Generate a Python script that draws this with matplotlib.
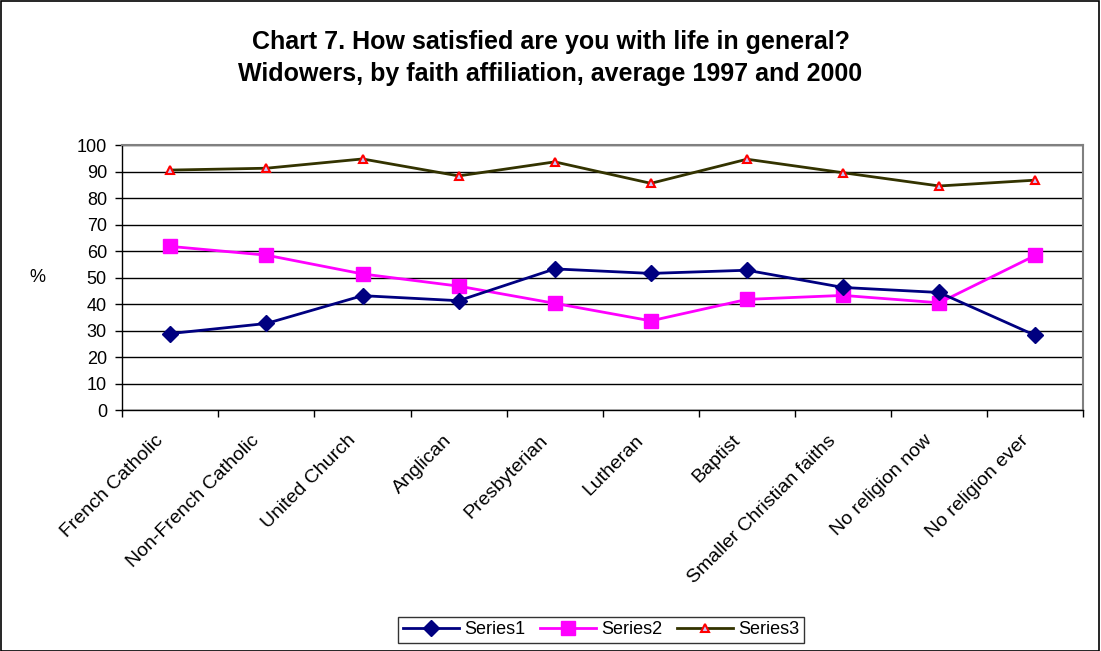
import matplotlib
matplotlib.use("Agg")
import matplotlib.pyplot as plt
from matplotlib.transforms import blended_transform_factory

plt.rcParams['font.family'] = ['Liberation Sans', 'DejaVu Sans']

categories = ["French Catholic", "Non-French Catholic", "United Church", "Anglican",
              "Presbyterian", "Lutheran", "Baptist", "Smaller Christian faiths",
              "No religion now", "No religion ever"]
series1 = [28.9, 32.7, 43.2, 41.3, 53.3, 51.6, 52.8, 46.3, 44.4, 28.2]
series2 = [61.8, 58.5, 51.4, 46.8, 40.3, 33.7, 41.8, 43.3, 40.5, 58.4]
series3 = [90.6, 91.3, 94.8, 88.4, 93.7, 85.6, 94.7, 89.6, 84.6, 86.8]
yticks = list(range(0, 101, 10))

fig = plt.figure(figsize=(11.01, 6.51), dpi=100)
fig.patch.set_facecolor('white')
# outer frame around the figure
fig.add_artist(plt.Rectangle((0.0005, 0.0005), 0.998, 0.998, transform=fig.transFigure,
                             fill=False, edgecolor='black', linewidth=1.2))

ax = fig.add_axes([0.111, 0.370, 0.873, 0.407])
x = [i + 0.5 for i in range(len(categories))]

ax.plot(x, series1, color='#000080', linewidth=2, marker='D', markersize=8,
        markerfacecolor='#000080', markeredgecolor='#000080', label='Series1', zorder=4)
ax.plot(x, series2, color='#FF00FF', linewidth=2, marker='s', markersize=10.5,
        markerfacecolor='#FF00FF', markeredgecolor='#FF00FF', label='Series2', zorder=3)
ax.plot(x, series3, color='#333300', linewidth=2, marker='^', markersize=6,
        markerfacecolor='#C8C8FF', markeredgecolor='#FF0000', markeredgewidth=1.5,
        label='Series3', zorder=3)

ax.set_xlim(0, len(categories))
ax.set_ylim(0, 100)
ax.set_yticks(yticks)
ax.set_yticklabels([str(v) for v in yticks], fontsize=13)
ax.set_xticks(range(len(categories) + 1))
ax.set_xticklabels([])
ax.tick_params(axis='both', direction='out', length=5, width=1, color='black')
ax.tick_params(axis='y', pad=6)
ax.grid(axis='y', color='black', linewidth=1)
ax.set_axisbelow(True)

for side in ('top', 'right'):
    ax.spines[side].set_color('#808080')
    ax.spines[side].set_linewidth(1.5)
for side in ('left', 'bottom'):
    ax.spines[side].set_color('black')
    ax.spines[side].set_linewidth(1)

trans = blended_transform_factory(ax.transData, ax.transAxes)
for xi, name in zip(x, categories):
    ax.text(xi - 0.1, -0.105, name, transform=trans, rotation=45, ha='right', va='center',
            rotation_mode='anchor', fontsize=14)

fig.text(0.034, 0.573, '%', fontsize=13, ha='center', va='center')

fig.text(0.5, 0.935, 'Chart 7. How satisfied are you with life in general?',
         fontsize=18, fontweight='bold', ha='center', va='center')
fig.text(0.5, 0.887, 'Widowers, by faith affiliation, average 1997 and 2000',
         fontsize=18, fontweight='bold', ha='center', va='center')

handles, labels = ax.get_legend_handles_labels()
leg = fig.legend(handles, labels, loc='center', bbox_to_anchor=(0.546, 0.033), ncol=3,
                 frameon=True, fancybox=False, edgecolor='black', fontsize=13,
                 handlelength=3.1, handletextpad=0.3, columnspacing=0.8,
                 borderpad=0.25)
leg.get_frame().set_linewidth(1)

fig.savefig('out.png', dpi=100)
